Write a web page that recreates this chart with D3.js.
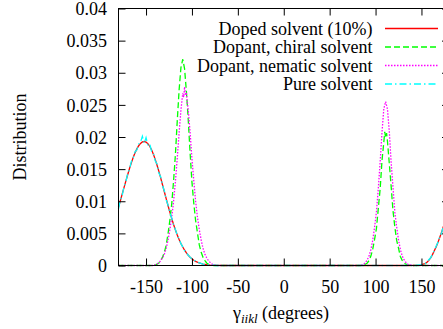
<!DOCTYPE html>
<html>
<head>
<meta charset="utf-8">
<script src="https://cdn.jsdelivr.net/npm/d3@7"></script>
<style>
  html, body { margin: 0; padding: 0; background: #fff; }
  svg { display: block; }
</style>
</head>
<body>
<svg id="chart" width="443" height="329"></svg>
<script>
// ---------------- data ----------------
const xTicks = [-150, -100, -50, 0, 50, 100, 150];
const xTickLabels = ["-150", "-100", "-50", "0", "50", "100", "150"];
const yTicks = [0, 0.005, 0.01, 0.015, 0.02, 0.025, 0.03, 0.035, 0.04];
const yTickLabels = ["0", "0.005", "0.01", "0.015", "0.02", "0.025", "0.03", "0.035", "0.04"];
const seriesNames = ["Doped solvent (10%)", "Dopant, chiral solvent", "Dopant, nematic solvent", "Pure solvent"];

// Doped solvent (10%)
const dopedAngles = [-180,-178,-176,-174,-172,-170,-168,-166,-164,-162,-160,-158,-156,-154,-152,
  -150,-148,-146,-144,-142,-140,-138,-136,-134,-132,-130,-128,-126,-124,-122,-120,-118,-116,-114,-112,
  -110,-108,-106,-104,-102,-100,-98,-96,-94,-92,-88,-84,-80,-74,-66,
  136,144,148,150,152,154,156,158,160,162,164,166,168,170,172,174,176,178,180];
const dopedValues = [0.00908,0.01008,0.0111,0.01212,0.01314,0.01413,0.01509,0.01598,0.01681,0.01753,0.01815,0.01864,0.019,0.01923,0.0193,
  0.0192,0.01897,0.01856,0.01801,0.01732,0.01652,0.01561,0.01464,0.0136,0.01253,0.01144,0.01036,0.0093,0.00827,0.0073,0.00638,0.00553,0.00475,0.00405,0.00342,
  0.00287,0.00238,0.00196,0.0016,0.00129,0.00104,0.00082,0.00065,0.00051,0.00039,0.00023,0.00013,0.00007,0.00003,0,
  0,0.00003,0.00007,0.0001,0.0002,0.0003,0.0005,0.0008,0.0012,0.0017,0.0023,0.0029,0.0036,0.0044,0.0052,0.0061,0.0071,0.0081,0.0091];

// Dopant, chiral solvent
const chiralAngles = [-180,-144,-142,-140,-138,-136,-134,-132,-130,-128,-126,-124,-122,-120,-118,-116,-114,-112,-110,
  -108,-106,-104,-102,-100,-98,-96,-94,-92,-90,-88,-86,-84,-82,-80,-76,
  84,85,87,89,91,93,95,97,99,101,103,105,107,109,110,111,112,113,115,117,119,121,123,125,127,129,131,133,135,139,180];
const chiralValues = [0,0,0.0001,0.0001,0.0002,0.0004,0.0008,0.0013,0.0021,0.0032,0.005,0.0071,0.0096,0.0132,0.0173,0.0225,0.0273,0.0308,0.0321,
  0.0306,0.027,0.0226,0.0175,0.013,0.0097,0.007,0.0051,0.0032,0.0021,0.0013,0.0008,0.0004,0.0002,0.0001,0,
  0,0.0001,0.0001,0.0002,0.0004,0.0008,0.0015,0.0026,0.0041,0.0058,0.0089,0.0119,0.0163,0.0192,0.0208,0.0199,0.0206,0.0193,0.0158,0.0123,0.0085,0.006,0.0039,0.0027,0.0014,0.0008,0.0004,0.0002,0.0001,0,0];

// Dopant, nematic solvent
const nematicAngles = [-180,-142,-140,-138,-136,-134,-132,-130,-128,-126,-124,-122,-120,-118,-116,-114,-112,-110,-109,-108,-107,
  -106,-104,-102,-100,-98,-96,-94,-92,-90,-88,-86,-84,-82,-80,-78,-76,-72,
  82,85,87,89,91,93,95,97,99,101,103,105,107,109,111,113,115,117,119,121,123,125,127,129,131,133,135,137,141,180];
const nematicValues = [0,0,0.0001,0.0002,0.00045,0.00075,0.0012,0.0018,0.0027,0.004,0.0056,0.0075,0.01,0.0131,0.0167,0.0206,0.0242,0.0268,0.0262,0.0278,0.0265,
  0.0267,0.0241,0.0207,0.0166,0.0132,0.01,0.0075,0.0056,0.004,0.0027,0.0018,0.0012,0.00075,0.00045,0.0002,0.0001,0,
  0,0.0001,0.0002,0.00046,0.0009,0.0015,0.0025,0.004,0.006,0.0084,0.012,0.0161,0.0207,0.0244,0.0255,0.0243,0.0208,0.016,0.0121,0.0083,0.006,0.004,0.0025,0.0015,0.0009,0.0005,0.0002,0.0001,0,0];

// Pure solvent
const pureAngles = dopedAngles;
const pureValues = [0.0088,0.0102,0.0109,0.0123,0.013,0.0143,0.015,0.0162,0.0167,0.0177,0.018,0.0189,0.0192,0.0201,0.019,
  0.0199,0.0187,0.0189,0.0178,0.0175,0.0163,0.0158,0.0144,0.0138,0.0124,0.0116,0.0102,0.0094,0.0082,0.0074,0.0063,0.0056,0.0047,0.0041,0.0034,
  0.0029,0.0023,0.002,0.0016,0.0013,0.001,0.0008,0.0007,0.0005,0.0004,0.0002,0.0001,0.0001,0,0,
  0,0,0.0001,0.0001,0.0002,0.0003,0.0005,0.0009,0.0012,0.0018,0.0023,0.003,0.0036,0.0045,0.0051,0.0062,0.007,0.0082,0.009];

// ---------------- drawing ----------------
const FONT = '"Liberation Serif"';
const FS = 18;
const svg = d3.select("#chart");
const xScale = d3.scaleLinear().domain([-180, 180]).range([118.5, 449]);
const yScale = d3.scaleLinear().domain([0, 0.04]).range([265.5, 8.5]);

function styleText(sel, size) {
  return sel.style("font-family", FONT).style("font-size", (size || FS) + "px").style("fill", "#000");
}

const series = [
  { name: seriesNames[0], xs: dopedAngles, ys: dopedValues, color: "#ff0000", dash: null },
  { name: seriesNames[1], xs: chiralAngles, ys: chiralValues, color: "#00ff00", dash: "6,3" },
  { name: seriesNames[2], xs: nematicAngles, ys: nematicValues, color: "#ff00ff", dash: "1.5,1.5" },
  { name: seriesNames[3], xs: pureAngles, ys: pureValues, color: "#00ffff", dash: "7,3,1.5,3" }
];

const lineGen = d3.line().x(d => xScale(d[0])).y(d => yScale(d[1]));

const plotG = svg.append("g");
series.forEach(s => {
  const pts = s.xs.map((a, i) => [a, s.ys[i]]);
  plotG.append("path")
    .datum(pts)
    .attr("d", lineGen)
    .attr("fill", "none")
    .attr("stroke", s.color)
    .attr("stroke-width", 1.3)
    .attr("stroke-dasharray", s.dash);
});

// axes (inward ticks on all four sides)
const axBottom = svg.append("g").attr("transform", `translate(0,${yScale(0)})`)
  .call(d3.axisBottom(xScale).tickValues(xTicks).tickSize(-7).tickSizeOuter(0)
    .tickFormat((d, i) => xTickLabels[i]));
const axTop = svg.append("g").attr("transform", `translate(0,${yScale(0.04)})`)
  .call(d3.axisTop(xScale).tickValues(xTicks).tickSize(-7).tickSizeOuter(0).tickFormat(""));
const axLeft = svg.append("g").attr("transform", `translate(${xScale(-180)},0)`)
  .call(d3.axisLeft(yScale).tickValues(yTicks).tickSize(-7).tickSizeOuter(0)
    .tickFormat((d, i) => yTickLabels[i]));
const axRight = svg.append("g").attr("transform", `translate(${xScale(180)},0)`)
  .call(d3.axisRight(yScale).tickValues(yTicks).tickSize(-7).tickSizeOuter(0).tickFormat(""));

[axBottom, axTop, axLeft, axRight].forEach(g => {
  g.select(".domain").remove();
  g.selectAll(".tick line").attr("stroke", "#000").attr("stroke-width", 1);
  g.attr("font-family", null).attr("font-size", null);
});
styleText(axBottom.selectAll(".tick text"))
  .attr("y", 27).attr("dy", null).attr("text-anchor", "middle");
styleText(axLeft.selectAll(".tick text"))
  .attr("x", -11.5).attr("dy", "0.34em").attr("text-anchor", "end");

// frame
svg.append("rect")
  .attr("x", xScale(-180)).attr("y", yScale(0.04))
  .attr("width", xScale(180) - xScale(-180)).attr("height", yScale(0) - yScale(0.04))
  .attr("fill", "none").attr("stroke", "#000").attr("stroke-width", 1);

// axis titles
const xt = styleText(svg.append("text"))
  .attr("x", 281).attr("y", 319)
  .attr("text-anchor", "middle");
xt.append("tspan").text("γ");
xt.append("tspan").style("font-style", "italic").style("font-size", "13px").attr("dy", 4).text("iikl");
xt.append("tspan").attr("dy", -4).text(" (degrees)");

styleText(svg.append("text"))
  .attr("transform", "translate(26,137) rotate(-90)")
  .attr("text-anchor", "middle")
  .text("Distribution");

// legend
const legendBase = [34.5, 53, 71.5, 90];
series.forEach((s, i) => {
  styleText(svg.append("text"))
    .attr("x", 372.5).attr("y", legendBase[i])
    .attr("text-anchor", "end")
    .text(s.name);
  svg.append("line")
    .attr("x1", 385).attr("x2", 438)
    .attr("y1", legendBase[i] - 6).attr("y2", legendBase[i] - 6)
    .attr("stroke", s.color).attr("stroke-width", 1.5)
    .attr("stroke-dasharray", s.dash);
});
</script>
</body>
</html>
